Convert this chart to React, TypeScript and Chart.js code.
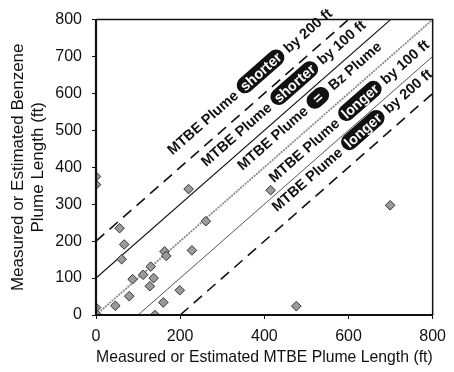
import React, { useEffect, useRef } from "react";
import { Chart, registerables } from "chart.js";

Chart.register(...registerables);

// Scatter data (ft)
const mtbeLength = [0, 0, 220, 56, 67, 61, 261, 163, 167, 228, 130, 112, 87, 137, 128, 79, 46, 0, 0, 160, 199, 140, 415, 699, 476];
const benzeneLength = [375, 353, 341, 235, 191, 151, 254, 172, 160, 175, 131, 109, 97, 100, 78, 51, 25, 20, 3, 34, 67, 0, 338, 297, 24];

// Reference lines: Bz = MTBE + offset
const lineOffsets = [200, 100, 0, -100, -200];
const lineColors = ["#111111", "#111111", "#8a8a8a", "#555555", "#111111"];
const lineWidths = [1.6, 1.2, 1.8, 1, 1.6];
const lineDashes = [[11, 7], [], [2, 1], [], [11, 7]];

// Diagonal labels
const labelPre = ["MTBE Plume", "MTBE Plume", "MTBE Plume", "MTBE Plume", "MTBE Plume"];
const labelPill = ["shorter", "shorter", "=", "longer", "longer"];
const labelPost = ["by 200 ft", "by 100 ft", "Bz Plume", "by 100 ft", "by 200 ft"];
// text start (baseline-left) in data units
const labelX = [182, 262, 348, 423, 430];
const labelY = [432, 400, 390, 357, 278];

const xTicks = [0, 200, 400, 600, 800];
const yTicks = [0, 100, 200, 300, 400, 500, 600, 700, 800];

const FONT = '"Liberation Sans", Arial, Helvetica, sans-serif';
const LABEL_SIZE = 14.5;

const framePlugin = {
  id: "frame",
  afterDatasetsDraw(chart: any) {
    const { ctx, chartArea: a } = chart;
    ctx.save();
    ctx.strokeStyle = "#111";
    ctx.lineWidth = 1.5;
    ctx.beginPath();
    ctx.moveTo(a.left, a.top);
    ctx.lineTo(a.right, a.top);
    ctx.lineTo(a.right, a.bottom);
    ctx.stroke();
    ctx.lineWidth = 2.2;
    ctx.beginPath();
    ctx.moveTo(a.left, a.top);
    ctx.lineTo(a.left, a.bottom);
    ctx.lineTo(a.right, a.bottom);
    ctx.stroke();
    ctx.restore();
  },
};

const labelPlugin = {
  id: "diagLabels",
  afterDatasetsDraw(chart: any) {
    const { ctx } = chart;
    const x = chart.scales.x;
    const y = chart.scales.y;
    const ang = Math.atan2(
      y.getPixelForValue(800) - y.getPixelForValue(0),
      x.getPixelForValue(800) - x.getPixelForValue(0)
    );
    ctx.save();
    ctx.font = `bold ${LABEL_SIZE}px ${FONT}`;
    ctx.textBaseline = "alphabetic";
    ctx.textAlign = "left";
    const sp = ctx.measureText(" ").width;
    const midY = -LABEL_SIZE * 0.36;
    const ph = LABEL_SIZE * 1.15;
    for (let i = 0; i < labelPre.length; i++) {
      const px = x.getPixelForValue(labelX[i]);
      const py = y.getPixelForValue(labelY[i]);
      ctx.save();
      ctx.translate(px, py);
      ctx.rotate(ang);
      let sx = 0;
      ctx.fillStyle = "#111";
      ctx.fillText(labelPre[i], sx, 0);
      sx += ctx.measureText(labelPre[i]).width + sp;
      const wb = ctx.measureText(labelPill[i]).width;
      const padP = labelPill[i] === "=" ? 8 : 4;
      ctx.beginPath();
      ctx.roundRect(sx, midY - ph / 2, wb + 2 * padP, ph, ph / 2);
      ctx.fillStyle = "#111";
      ctx.fill();
      ctx.fillStyle = "#fff";
      ctx.fillText(labelPill[i], sx + padP, 0);
      sx += wb + 2 * padP + sp;
      ctx.fillStyle = "#111";
      ctx.fillText(labelPost[i], sx, 0);
      ctx.restore();
    }
    ctx.restore();
  },
};

export default function App() {
  const ref = useRef<HTMLCanvasElement | null>(null);
  useEffect(() => {
    if (!ref.current) return;
    Chart.defaults.font.family = FONT;
    const lineSets = lineOffsets.map((off, i) => ({
      type: "line" as const,
      data: [
        { x: Math.max(0, -off), y: Math.max(0, off) },
        { x: Math.min(800, 800 - off), y: Math.min(800, 800 + off) },
      ],
      borderColor: lineColors[i],
      borderWidth: lineWidths[i],
      borderDash: lineDashes[i],
      pointRadius: 0,
      fill: false,
      showLine: true,
    }));
    const chart = new Chart(ref.current, {
      type: "scatter",
      data: {
        datasets: [
          {
            type: "scatter" as const,
            data: mtbeLength.map((v, i) => ({ x: v, y: benzeneLength[i] })),
            pointStyle: "rectRot",
            pointRadius: 4.8,
            backgroundColor: "#9a9a9a",
            borderColor: "#333",
            borderWidth: 1,
          },
          ...lineSets,
        ] as any,
      },
      options: {
        responsive: false,
        animation: false,
        layout: { padding: { top: 13, right: 14, left: 0, bottom: 0 } },
        plugins: { legend: { display: false }, tooltip: { enabled: false } },
        scales: {
          x: {
            type: "linear",
            min: 0,
            max: 800,
            afterBuildTicks: (s: any) => {
              s.ticks = xTicks.map((v) => ({ value: v }));
            },
            afterFit: (s: any) => {
              s.height = 57;
            },
            ticks: { color: "#111", font: { size: 16 }, padding: 8 },
            grid: { display: true, drawOnChartArea: false, tickLength: 4, color: "#111" },
            border: { display: false },
            title: {
              display: true,
              text: "Measured or Estimated MTBE Plume Length (ft)",
              color: "#111",
              font: { size: 17 },
              padding: { top: 0, bottom: 4 },
            },
          },
          y: {
            type: "linear",
            min: 0,
            max: 800,
            afterBuildTicks: (s: any) => {
              s.ticks = yTicks.map((v) => ({ value: v }));
            },
            afterFit: (s: any) => {
              s.width = 96;
            },
            ticks: { color: "#111", font: { size: 16 }, padding: 10 },
            grid: { display: true, drawOnChartArea: false, tickLength: 4, color: "#111" },
            border: { display: false },
            title: {
              display: true,
              text: ["Measured or Estimated Benzene", "Plume Length (ft)"],
              color: "#111",
              font: { size: 17 },
              padding: { top: 8, bottom: 0 },
            },
          },
        },
      },
      plugins: [framePlugin, labelPlugin],
    });
    return () => chart.destroy();
  }, []);
  return (
    <div style={{ position: "fixed", left: 0, top: 0, width: 454, height: 372, background: "#fff" }}>
      <canvas ref={ref} width={454} height={372} style={{ display: "block" }} />
    </div>
  );
}
